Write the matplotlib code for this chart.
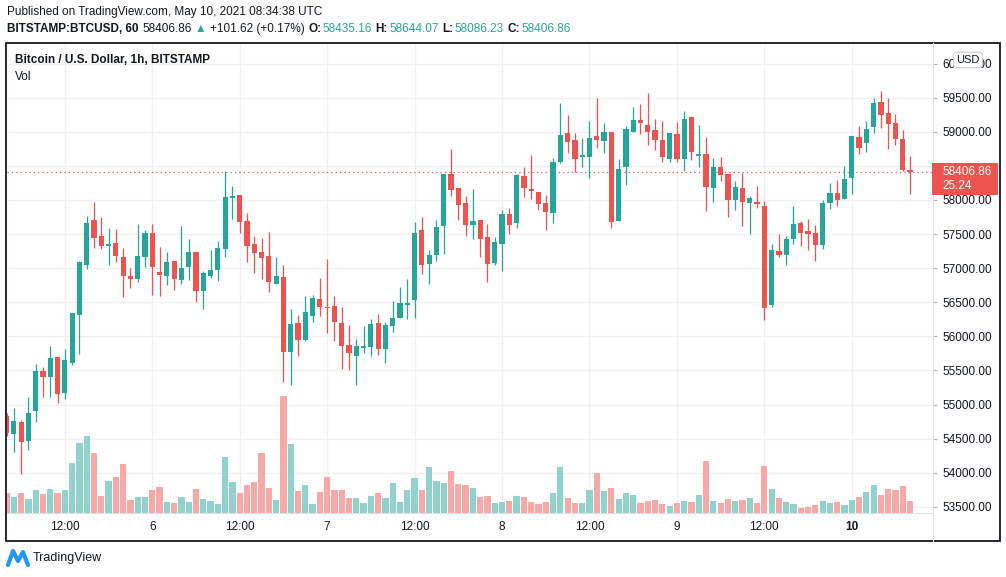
import matplotlib
matplotlib.use('Agg')
import matplotlib.pyplot as plt
from matplotlib.patches import Rectangle
from matplotlib.lines import Line2D
import pandas as pd

# BITSTAMP:BTCUSD 1h candles, 2021-05-05 04:00 .. 2021-05-10 08:00 UTC
opens = [54835, 54575, 54740, 54470, 54910, 55495, 55410, 55700, 55175, 55615,
         56320, 57050, 57705, 57470, 57330, 57370, 57165, 56885, 56845, 57170,
         57515, 56945, 56890, 57105, 56830, 57010, 57240, 56670, 56885, 56980,
         57285, 58035, 58075, 57690, 57355, 57240, 57180, 56775, 56870, 55775,
         56195, 55950, 56305, 56550, 56435, 56445, 56195, 55875, 55715, 55835,
         55850, 56195, 55820, 56155, 56275, 56465, 56540, 57560, 57065, 57200,
         57625, 58380, 58175, 57955, 57640, 57705, 57460, 57080, 57360, 57795,
         57655, 58350, 58160, 58115, 57955, 57815, 58555, 58980, 58880, 58635,
         58635, 58940, 58870, 58995, 57695, 58490, 59000, 59175, 59100, 59025,
         58880, 58605, 58970, 58605, 59215, 58650, 58675, 58180, 58485, 58380,
         58005, 58175, 57960, 57970, 57910, 56465, 57250, 57200, 57435, 57665,
         57545, 57515, 57345, 57960, 58105, 58020, 58325, 58925, 58840, 59075,
         59435, 59275, 59130, 58895, 58435.16]
highs = [54880, 54950, 54775, 55110, 55595, 55550, 55860, 55700, 55815, 56345,
         57105, 57765, 57970, 57750, 57590, 57575, 57295, 57005, 57650, 57560,
         57650, 57310, 57240, 57105, 57620, 57430, 57240, 56960, 57265, 57400,
         58425, 58205, 58075, 57810, 57470, 57445, 57530, 57165, 57045, 56400,
         56315, 56595, 56605, 56855, 57135, 56595, 56430, 56165, 55960, 56155,
         56255, 56330, 56210, 56520, 56725, 56840, 57675, 57750, 57265, 57705,
         58380, 58750, 58175, 58060, 58160, 57705, 57650, 57460, 57855, 57885,
         58380, 58485, 58660, 58115, 58075, 58615, 59420, 59245, 58980, 58910,
         59160, 59495, 59130, 58995, 58600, 59085, 59365, 59405, 59570, 59185,
         59160, 58980, 59145, 59305, 59215, 59100, 58925, 58615, 58630, 58380,
         58280, 58395, 58060, 58205, 57985, 57355, 57500, 57470, 57910, 57690,
         57720, 57635, 58000, 58250, 58295, 58500, 58940, 59085, 59160, 59495,
         59600, 59495, 59260, 59025, 58644.07]
lows = [54540, 54310, 53975, 54340, 54750, 55115, 55115, 55030, 55085, 55585,
        55745, 56995, 57300, 57285, 57050, 57095, 56570, 56715, 56790, 57020,
        56610, 56595, 56760, 56685, 56775, 56830, 56510, 56405, 56860, 56815,
        57170, 57720, 57520, 57095, 56935, 56845, 56655, 56775, 55335, 55280,
        55715, 55925, 56215, 56305, 56055, 55935, 55525, 55510, 55280, 55760,
        55705, 55730, 55615, 56070, 56275, 56260, 56275, 56920, 56775, 57110,
        57215, 58065, 57710, 57475, 57435, 57170, 56790, 57050, 56965, 57505,
        57595, 58050, 58020, 57860, 57565, 57655, 58540, 58690, 58415, 58485,
        58325, 58765, 58695, 57595, 57695, 58225, 59000, 58970, 58810, 58735,
        58560, 58560, 58560, 58430, 58590, 58490, 57845, 57975, 58285, 57755,
        57860, 57625, 57505, 57885, 56245, 56435, 57170, 57050, 57360, 57330,
        57270, 57110, 57285, 57870, 57915, 58020, 58090, 58680, 58710, 58985,
        59060, 58750, 58810, 58420, 58086.23]
closes = [54590, 54760, 54455, 54875, 55495, 55410, 55685, 55160, 55655, 56345,
          57090, 57665, 57445, 57330, 57355, 57185, 56890, 56845, 57180, 57515,
          57010, 56900, 57090, 56845, 57005, 57240, 56670, 56930, 56975, 57295,
          58045, 58060, 57680, 57330, 57225, 57155, 56790, 56885, 55775, 56180,
          55950, 56360, 56565, 56435, 56420, 56215, 55865, 55760, 55860, 55860,
          56180, 55820, 56165, 56270, 56490, 56490, 57515, 57050, 57195, 57605,
          58380, 58150, 57930, 57640, 57690, 57435, 57065, 57385, 57795, 57640,
          58365, 58180, 58135, 57945, 57830, 58555, 58955, 58855, 58605, 58660,
          58910, 58885, 58995, 57680, 58455, 59040, 59175, 59135, 59000, 58885,
          58635, 58980, 58605, 59185, 58710, 58675, 58195, 58485, 58370, 58005,
          58190, 57975, 58030, 57945, 56420, 57265, 57200, 57430, 57650, 57520,
          57505, 57345, 57955, 58105, 58005, 58310, 58940, 58765, 59040, 59420,
          59250, 59120, 58900, 58435, 58406.86]
volumes = [20, 16, 20, 14, 23, 19, 24, 20, 23, 50, 70, 77, 60, 17, 32, 36, 49, 13, 16, 16,
           23, 26, 11, 10, 16, 11, 24, 14, 12, 9, 56, 31, 20, 28, 31, 60, 25, 13, 117, 69,
           22, 28, 9, 21, 36, 23, 23, 15, 15, 10, 17, 20, 15, 30, 11, 23, 35, 23, 46, 32,
           30, 42, 29, 28, 25, 16, 17, 10, 11, 12, 17, 16, 11, 9, 11, 20, 46, 15, 10, 10,
           23, 40, 22, 25, 14, 20, 18, 10, 12, 13, 9, 7, 10, 12, 11, 18, 52, 12, 10, 14,
           12, 13, 15, 10, 47, 24, 15, 11, 9, 5, 6, 8, 12, 10, 11, 8, 13, 16, 21, 28,
           18, 24, 23, 27, 12]

times = pd.date_range('2021-05-05 04:00', periods=len(opens), freq='h')
day6 = pd.Timestamp('2021-05-06 00:00')
hours = [(t - day6) / pd.Timedelta(hours=1) for t in times]

tick_hours = [-12, 0, 12, 24, 36, 48, 60, 72, 84, 96]
tick_labels = ['12:00', '6', '12:00', '7', '12:00', '8', '12:00', '9', '12:00', '10']
price_ticks = list(range(53500, 60001, 500))
last_price = 58406.86

GREEN = '#26a69a'
RED = '#ef5350'
TXT = '#131722'

plt.rcParams['font.family'] = ['Liberation Sans', 'DejaVu Sans']

W, H = 1006, 577
fig = plt.figure(figsize=(W / 100, H / 100), dpi=100)
fig.patch.set_facecolor('white')


def fx(px):
    return px / W


def fy(py):
    return 1 - py / H


# plot area in pixels: x 7..933, y 44..513
rect = [fx(7), fy(513), fx(933) - fx(7), fy(44) - fy(513)]
ax = fig.add_axes(rect, zorder=1)
vax = fig.add_axes(rect, zorder=2)

ax.set_xlim(-19.94, 107.15)
ax.set_ylim(53410, 60287)
vax.set_xlim(-19.94, 107.15)
vax.set_ylim(0, max(volumes) * 4.0)
vax.axis('off')
vax.patch.set_visible(False)

up = [c >= o for o, c in zip(opens, closes)]
col = [GREEN if u else RED for u in up]
vcol = ['#92d2cc' if u else '#f7a9a7' for u in up]

# volume
vax.bar(hours, volumes, width=0.85, color=vcol, linewidth=0)

# candles
ax.vlines(hours, lows, highs, colors=col, linewidth=0.9, zorder=3)
body_bottom = [min(o, c) for o, c in zip(opens, closes)]
body_height = [max(abs(c - o), 16) for o, c in zip(opens, closes)]
ax.bar(hours, body_height, bottom=body_bottom, width=0.72, color=col, linewidth=0, zorder=4)

# last price line
ax.axhline(last_price, color=RED, linewidth=0.9, linestyle=(0, (1, 2.5)), zorder=2)

# grid and axes; the 58500 label sits under the last-price tag
ax.set_xticks(tick_hours)
ax.set_xticklabels(tick_labels)
ax.set_yticks(price_ticks)
ax.set_yticklabels(['' if p == 58500 else '%.2f' % p for p in price_ticks])
ax.yaxis.tick_right()
ax.grid(True, color='#f0f0f2', linewidth=1, zorder=0)
ax.set_axisbelow(True)
for s in ['top', 'left', 'right']:
    ax.spines[s].set_visible(False)
ax.spines['bottom'].set_color('#e0e3eb')
ax.tick_params(axis='y', length=3, color='#b2b5be', pad=4, labelsize=8.5, labelcolor=TXT)
ax.tick_params(axis='x', length=0, pad=6, labelsize=8.5, labelcolor=TXT)
ax.get_xticklabels()[-1].set_fontweight('bold')

# right axis separator and outer frame
fig.add_artist(Line2D([fx(933), fx(933)], [fy(43), fy(541)], color='#e0e3eb', linewidth=0.8))
fig.add_artist(Rectangle((fx(6), fy(541)), fx(1000) - fx(6), fy(43) - fy(541),
                         fill=False, edgecolor=TXT, linewidth=1.3))

# last price label on the axis
fig.add_artist(Rectangle((fx(932), fy(195)), fx(998) - fx(932), fy(163) - fy(195),
                         facecolor=RED, edgecolor='none', zorder=5))
fig.text(fx(942), fy(172), '%.2f' % last_price, color='white', fontsize=8.5,
         ha='left', va='center', zorder=6)
fig.text(fx(942), fy(186.5), '25:24', color='white', fontsize=8.5,
         ha='left', va='center', zorder=6)

# currency box
fig.text(fx(968), fy(60), 'USD', color=TXT, fontsize=8, ha='center', va='center', zorder=6,
         bbox=dict(boxstyle='round,pad=0.25,rounding_size=0.3', fc='white', ec='#c9ccd4', lw=0.8))

# header lines
renderer = fig.canvas.get_renderer()


def write_row(pieces, x, y, size=8.5):
    for text, color, weight, gap in pieces:
        t = fig.text(fx(x), fy(y), text, color=color, fontweight=weight,
                     fontsize=size, ha='left', va='center')
        x += t.get_window_extent(renderer).width + gap


write_row([('Published on TradingView.com, May 10, 2021 08:34:38 UTC', TXT, 'normal', 0)], 7, 12)
write_row([
    ('BITSTAMP:BTCUSD, 60', TXT, 'bold', 4),
    ('58406.86', TXT, 'normal', 3),
    ('\u25b2', GREEN, 'normal', 3),
    ('+101.62 (+0.17%)', TXT, 'normal', 4),
    ('O:', TXT, 'bold', 1), ('58435.16', GREEN, 'normal', 4),
    ('H:', TXT, 'bold', 1), ('58644.07', GREEN, 'normal', 4),
    ('L:', TXT, 'bold', 1), ('58086.23', GREEN, 'normal', 4),
    ('C:', TXT, 'bold', 1), ('58406.86', GREEN, 'normal', 0),
], 7, 29)

fig.text(fx(15), fy(60), 'Bitcoin / U.S. Dollar, 1h, BITSTAMP', color=TXT,
         fontsize=8.5, fontweight='bold', ha='left', va='center')
fig.text(fx(15), fy(77), 'Vol', color=TXT, fontsize=8.5, ha='left', va='center')

# footer logo
fig.add_artist(Line2D([fx(8), fx(13), fx(18), fx(23), fx(28)],
                      [fy(565), fy(551), fy(561), fy(552), fy(565)],
                      color='#2196f3', linewidth=3, solid_joinstyle='round',
                      solid_capstyle='round'))
fig.text(fx(33), fy(558), 'TradingView', color=TXT, fontsize=9, ha='left', va='center')

fig.savefig('out.png', dpi=100)
